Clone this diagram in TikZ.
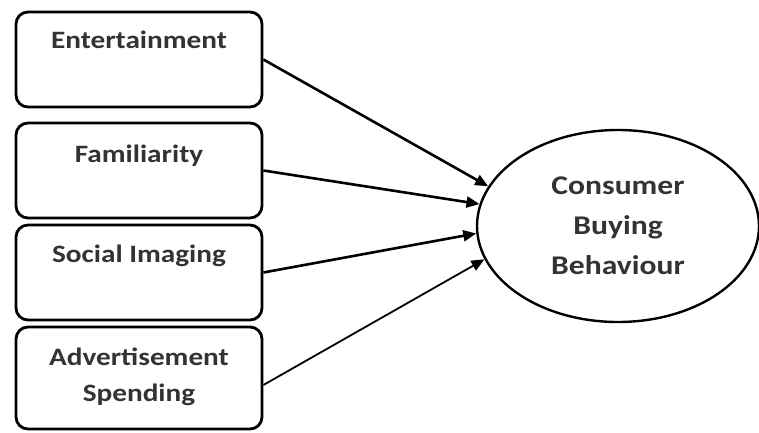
\documentclass[tikz,border=0pt]{standalone}
\usepackage{fontspec}
\setmainfont{Carlito}[FakeStretch=1.17]
\usetikzlibrary{arrows.meta,shapes.geometric}

\tikzset{
  factor/.style={draw,line width=2.8pt,rounded corners=12pt,minimum width=246pt,inner sep=0pt},
  factxt/.style={font=\bfseries\fontsize{25}{36}\selectfont,text=black!80,align=center,anchor=base},
  outcome/.style={draw,ellipse,line width=2.4pt,minimum width=282pt,minimum height=192pt,inner sep=0pt,
    font=\bfseries\fontsize{27}{40}\selectfont,text=black!80,align=center},
  link/.style={line width=2.6pt,-{Triangle[length=13pt,width=11pt]}}
}

\begin{document}
\begin{tikzpicture}[x=1pt,y=1pt]
\useasboundingbox (0,0) rectangle (759,432);

% factors on the left
\node[factor,minimum height=95pt] (ent) at (139,372.5) {};
\node[factor,minimum height=95pt] (fam) at (139,261.5) {};
\node[factor,minimum height=95pt] (soc) at (139,159.5) {};
\node[factor,minimum height=102pt] (adv) at (139,54) {};

\node[factxt] (entText) at ([yshift=-38pt]ent.north) {Entertainment};
\node[factxt] (famText) at ([yshift=-41pt]fam.north) {Familiarity};
\node[factxt] (socText) at ([yshift=-39pt]soc.north) {Social Imaging};
\node[factxt] (advText) at ([yshift=-76pt]adv.north) {Advertisement\\Spending};

% dependent variable
\node[outcome] (cbb) at (618,206) {Consumer\\Buying\\Behaviour};

\draw[link] (ent.east) -- (cbb.163);
\draw[link] (fam.east) -- (cbb.171);
\draw[link] (soc.east) -- (cbb.183);
\draw[link,line width=1.8pt] ([yshift=-7pt]adv.east) -- (cbb.194);
\end{tikzpicture}
\end{document}
